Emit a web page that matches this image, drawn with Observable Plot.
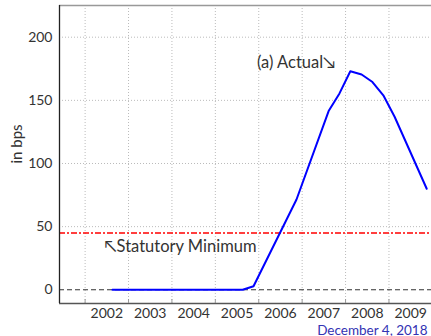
<!DOCTYPE html>
<html>
<head>
<meta charset="utf-8">
<script src="https://cdn.jsdelivr.net/npm/d3@7"></script>
<script src="https://cdn.jsdelivr.net/npm/@observablehq/plot@0.6"></script>
<style>
  html, body { margin: 0; padding: 0; background: #fff; }
  #chart svg { display: block; }
</style>
</head>
<body>
<div id="chart"></div>
<script>
// ---- data ----
const years = [2002.63, 2005.63, 2005.88, 2006.87, 2007.61, 2007.86, 2008.11, 2008.37, 2008.62, 2008.87, 2009.13, 2009.87];
const actual = [0, 0, 2.8, 71.5, 141.5, 155.5, 173, 170.5, 164.5, 154, 137, 80];
const statutoryMinimum = 45;
const yearTicks = [2002, 2003, 2004, 2005, 2006, 2007, 2008, 2009];
const yTicks = [0, 50, 100, 150, 200];
const annotations = [
  {x: 2005.96, y: 180, text: "(a) Actual\u2198"},
  {x: 2002.44, y: 34.3, text: "\u2196Statutory Minimum"}
];
const dateText = "December 4, 2018";
const yLabel = "in bps";

const xDomain = [2001.41, 2009.98];
const yDomain = [-10.85, 225.1];

const data = years.map((x, i) => ({x, y: actual[i]}));
const font = "Lato, 'DejaVu Sans', sans-serif";
const ink = "#333";

const chart = Plot.plot({
  width: 431,
  height: 336,
  marginLeft: 59,
  marginRight: 0,
  marginTop: 5,
  marginBottom: 33,
  style: {fontFamily: font, fontSize: "14px", color: ink, background: "#fff"},
  x: {domain: xDomain},
  y: {domain: yDomain},
  marks: [
    Plot.gridX(yearTicks, {stroke: "#bbb", strokeOpacity: 1, strokeDasharray: "1,2"}),
    Plot.gridY(yTicks.filter(d => d !== 0), {stroke: "#bbb", strokeOpacity: 1, strokeDasharray: "1,2"}),
    Plot.ruleY([0], {stroke: "#333", strokeWidth: 1.1, strokeDasharray: "5,3"}),
    Plot.ruleY([statutoryMinimum], {stroke: "#ff0000", strokeWidth: 1.6, strokeDasharray: "6,2,2,2"}),
    Plot.line(data, {x: "x", y: "y", stroke: "#0000ff", strokeWidth: 2}),
    // frame edges
    Plot.ruleY([yDomain[1]], {stroke: "#999", strokeWidth: 1.5}),
    Plot.ruleY([yDomain[0]], {stroke: "#555", strokeWidth: 1.5}),
    Plot.ruleX([xDomain[0]], {stroke: "#222", strokeWidth: 1.3}),
    // bottom tick marks (inside)
    Plot.axisX({ticks: yearTicks, tickSize: -4, tickFormat: () => "", stroke: "#999", label: null}),
    // x labels centered in each year
    Plot.axisX({ticks: yearTicks.map(d => d + 0.5), tickSize: 0, tickPadding: 5,
      tickFormat: d => String(Math.floor(d)), fontSize: 14, fill: ink, label: null}),
    Plot.axisY({ticks: yTicks, tickSize: 0, tickPadding: 7, fontSize: 14, fill: ink, label: null}),
    Plot.text([yLabel], {frameAnchor: "left", rotate: -90, dx: -42, dy: 9, fontSize: 15, fill: ink}),
    Plot.text(annotations, {x: "x", y: "y", text: "text", textAnchor: "start", fontSize: 16.5, fill: ink}),
    Plot.text([dateText], {frameAnchor: "bottom-right", textAnchor: "end", lineAnchor: "bottom", dx: -4, dy: 31, fontSize: 13.5, fill: "#3333b3"})
  ]
});
document.getElementById("chart").appendChild(chart);
</script>
</body>
</html>
